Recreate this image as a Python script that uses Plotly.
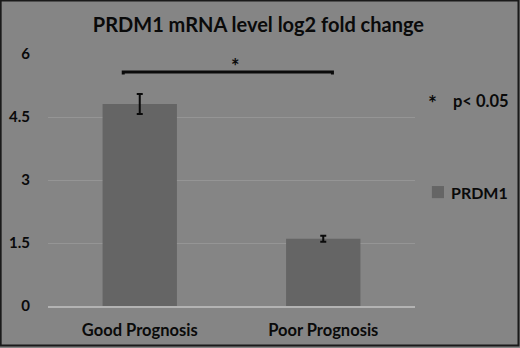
import plotly.graph_objects as go

categories = ["Good Prognosis", "Poor Prognosis"]
values = [4.81, 1.60]
errors = [0.24, 0.07]
y_ticks = [0, 1.5, 3, 4.5, 6]
y_tick_labels = ["0", "1.5", "3", "4.5", "6"]
series_name = "PRDM1"
title_text = "PRDM1 mRNA level log2 fold change"
sig_text = "*"
note_star = "*"
note_text = "p< 0.05"
bracket_x = [-0.09, 1.05]
bracket_y = 5.57

BG = "#858585"
BAR = "#656565"
INK = "#0a0a0a"
FONT = "Lato"

fig = go.Figure()
fig.add_trace(go.Bar(
    x=[0, 1], y=values, name=series_name, showlegend=False,
    marker=dict(color=BAR, line=dict(width=0)),
    error_y=dict(type="data", array=errors, visible=True, color=INK, thickness=2, width=3),
    width=0.405,
))

# significance bracket
fig.add_trace(go.Scatter(
    x=[bracket_x[0], bracket_x[0], bracket_x[1], bracket_x[1]],
    y=[bracket_y - 0.06, bracket_y, bracket_y, bracket_y - 0.06],
    mode="lines", line=dict(color=INK, width=3), showlegend=False, hoverinfo="skip",
))

fig.add_annotation(x=0.52, y=5.72, xref="x", yref="y", text=f"<b>{sig_text}</b>", showarrow=False,
                   font=dict(family=FONT, size=20, color=INK))
# significance note
fig.add_annotation(x=1.049, y=4.84, xref="paper", yref="y", xanchor="center",
                   text=f"<b>{note_star}</b>", showarrow=False,
                   font=dict(family=FONT, size=21, color=INK))
fig.add_annotation(x=1.098, y=4.88, xref="paper", yref="y", xanchor="left",
                   text=f"<b>{note_text}</b>", showarrow=False,
                   font=dict(family=FONT, size=16.5, color=INK))

# legend (series key) for the bar series
fig.add_shape(type="rect", xref="paper", yref="paper",
              x0=1.046, x1=1.079, y0=0.428, y1=0.476,
              line=dict(width=0), fillcolor=BAR)
fig.add_annotation(x=1.092, y=0.452, xref="paper", yref="paper", xanchor="left", yanchor="middle",
                   text=f"<b>{series_name}</b>", showarrow=False,
                   font=dict(family=FONT, size=16, color=INK))

# outer frame
fig.add_shape(type="rect", xref="paper", yref="paper",
              x0=-0.129, x1=1.282, y0=-0.157, y1=1.212,
              line=dict(color="#1a1a1a", width=2), fillcolor="rgba(0,0,0,0)")

fig.update_layout(
    width=520, height=348,
    margin=dict(l=48, r=105, t=54, b=42, autoexpand=False),
    paper_bgcolor=BG, plot_bgcolor=BG,
    title=dict(text=f"<b>{title_text}</b>", x=0.497, xanchor="center", y=0.928, yanchor="middle",
               font=dict(family=FONT, size=20, color=INK)),
    font=dict(family=FONT, color=INK),
    showlegend=False,
    xaxis=dict(tickvals=[0, 1], ticktext=[f"<b>{c}</b>" for c in categories], range=[-0.5, 1.5],
               showgrid=False, zeroline=False, showline=True, linecolor="#b3b3b3", linewidth=2,
               tickfont=dict(family=FONT, size=16.5, color=INK), ticks="", ticklabelstandoff=8),
    yaxis=dict(range=[0, 6], tickvals=y_ticks, ticktext=[f"<b>{t}</b>" for t in y_tick_labels],
               showgrid=True, gridcolor="#959595", gridwidth=1, zeroline=False, showline=False,
               tickfont=dict(family=FONT, size=15, color=INK), ticks="", ticklabelstandoff=17),
)

fig.write_html("out.html", config={"displayModeBar": False},
               post_script="document.body.style.margin='0';document.body.style.overflow='hidden';")
